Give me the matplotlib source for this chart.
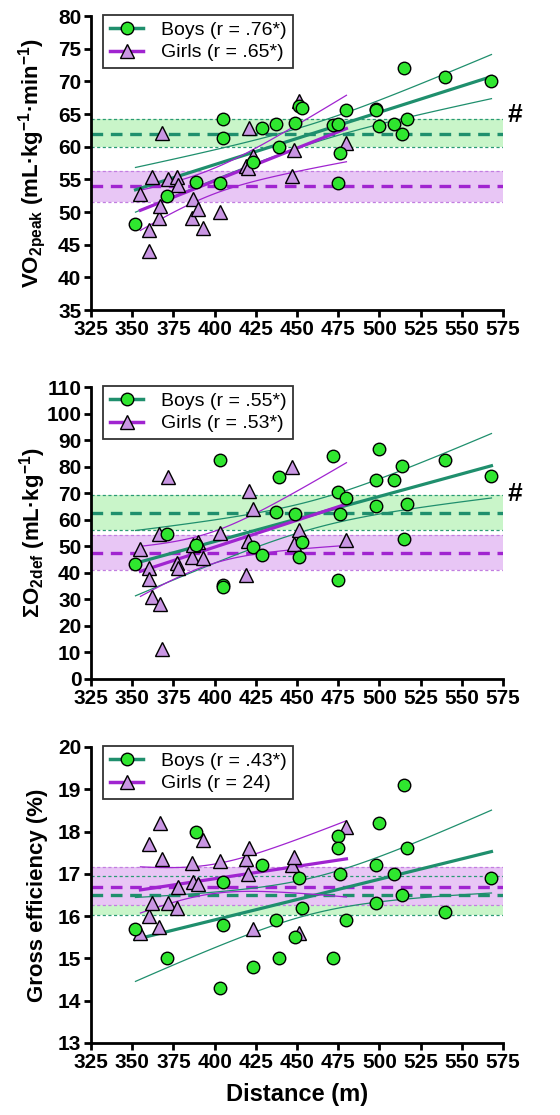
import matplotlib
matplotlib.use("Agg")
import matplotlib.pyplot as plt
import numpy as np

plt.rcParams["font.family"] = ["Liberation Sans", "DejaVu Sans"]
plt.rcParams["mathtext.fontset"] = "custom"
plt.rcParams["mathtext.rm"] = "Liberation Sans:bold"
plt.rcParams["mathtext.it"] = "Liberation Sans:bold"
plt.rcParams["mathtext.bf"] = "Liberation Sans:bold"
plt.rcParams["mathtext.default"] = "rm"

# distances (m)
boys_dist = [352, 371, 389, 403, 405, 405, 423, 429, 437, 439, 449, 451, 453, 472,
             475, 475, 476, 480, 498, 498, 500, 509, 514, 515, 517, 540, 568]
girls_dist = [355, 360, 360, 362, 366, 367, 368, 372, 377, 378, 386, 387, 390, 393,
              403, 419, 420, 421, 423, 447, 448, 451, 480]

# VO2peak
boys_vo2 = [48.2, 52.5, 54.6, 54.4, 64.2, 61.3, 57.7, 62.8, 63.4, 60.0, 63.6, 66.2, 65.9, 63.3,
            63.5, 54.5, 59.0, 65.6, 65.8, 65.6, 63.2, 63.4, 62.0, 72.0, 64.2, 70.6, 70.0]
girls_vo2 = [52.7, 47.3, 44.1, 55.3, 49.1, 50.9, 62.1, 55.0, 55.3, 54.2, 49.1, 52.0, 50.5, 47.6,
             50.0, 57.1, 56.7, 62.8, 58.6, 55.5, 59.5, 67.0, 60.5]

# accumulated O2 deficit
boys_o2def = [43.5, 54.5, 50.5, 82.4, 35.4, 34.5, 49.8, 46.7, 63.0, 76.1, 62.0, 46.0, 51.7, 83.9,
              70.5, 37.3, 62.3, 68.0, 74.9, 65.1, 86.8, 74.9, 80.1, 52.7, 66.1, 82.4, 76.4]
girls_o2def = [49.1, 41.7, 37.5, 31.0, 54.8, 28.2, 11.3, 76.1, 43.8, 41.7, 46.0, 50.4, 51.7, 45.4,
               55.0, 39.1, 52.0, 71.0, 64.2, 79.9, 50.8, 56.0, 52.3]

# gross efficiency
boys_ge = [15.7, 15.0, 18.0, 14.3, 16.8, 15.8, 14.8, 17.2, 15.9, 15.0, 15.5, 16.9, 16.2, 15.0,
           17.9, 17.6, 17.0, 15.9, 17.2, 16.3, 18.2, 17.0, 16.5, 19.1, 17.6, 16.1, 16.9]
girls_ge = [15.6, 17.7, 16.0, 16.3, 15.75, 18.2, 17.35, 16.3, 16.2, 16.7, 17.25, 16.8, 16.75, 17.8,
            17.3, 17.35, 17.0, 17.6, 15.7, 17.2, 17.4, 15.6, 18.1]

# group mean (dashed) and band limits (dotted), [mean, low, high]
boys_band = {"vo2": [62.0, 60.0, 64.2], "o2def": [62.6, 56.3, 69.2], "ge": [16.49, 16.03, 16.94]}
girls_band = {"vo2": [54.0, 51.6, 56.3], "o2def": [47.5, 40.9, 54.2], "ge": [16.70, 16.27, 17.17]}

boys_labels = ["Boys (r = .76*)", "Boys (r = .55*)", "Boys (r = .43*)"]
girls_labels = ["Girls (r = .65*)", "Girls (r = .53*)", "Girls (r = 24)"]
ylabels = [
    "VO$_{2peak}$ (mL·kg$^{-1}$·min$^{-1}$)",
    "ΣO$_{2def}$ (mL·kg$^{-1}$)",
    "Gross efficiency (%)",
]
ylims = [(35, 80, 5), (0, 110, 10), (13, 20, 1)]
hash_y = [64.8, 69.8, None]

T_BOYS = 2.060   # t(0.975, df=25)
T_GIRLS = 2.080  # t(0.975, df=21)

TEAL = "#1f8f6d"
PURPLE = "#a024d0"
GREEN_FILL = "#2fe62f"
LILAC_FILL = "#c996e3"
GREEN_BAND = "#c9f5c9"
PURPLE_BAND = "#e8c6f5"


def fit_with_ci(x, y, t):
    x = np.asarray(x, float)
    y = np.asarray(y, float)
    slope, intercept = np.polyfit(x, y, 1)
    xs = np.linspace(x.min(), x.max(), 100)
    pred = intercept + slope * xs
    resid = y - (intercept + slope * x)
    s = np.sqrt(np.sum(resid ** 2) / (len(x) - 2))
    se = s * np.sqrt(1 / len(x) + (xs - x.mean()) ** 2 / np.sum((x - x.mean()) ** 2))
    return xs, pred, pred - t * se, pred + t * se


def draw_panel(ax, key, boys_y, girls_y, blabel, glabel, ylabel, ylim, hy):
    for band, line_col, fill_col, edge_col in [
        (boys_band[key], TEAL, GREEN_BAND, "#2a9a74"),
        (girls_band[key], PURPLE, PURPLE_BAND, "#c27ee0"),
    ]:
        mean, lo, hi = band
        ax.axhspan(lo, hi, color=fill_col, lw=0, zorder=0)
        ax.axhline(lo, color=edge_col, lw=0.9, ls=(0, (2.5, 2)), zorder=1)
        ax.axhline(hi, color=edge_col, lw=0.9, ls=(0, (2.5, 2)), zorder=1)
        ax.axhline(mean, color=line_col, lw=2.4, ls=(0, (3.5, 2.3)), zorder=1)

    for x, y, col, t in [(boys_dist, boys_y, TEAL, T_BOYS), (girls_dist, girls_y, PURPLE, T_GIRLS)]:
        xs, pred, lo, hi = fit_with_ci(x, y, t)
        ax.plot(xs, pred, color=col, lw=2.3, zorder=2)
        ax.plot(xs, lo, color=col, lw=0.9, zorder=2)
        ax.plot(xs, hi, color=col, lw=0.9, zorder=2)

    ax.plot(girls_dist, girls_y, ls="none", marker="^", ms=10, mfc=LILAC_FILL, mec="black",
            mew=1.0, zorder=3)
    ax.plot(boys_dist, boys_y, ls="none", marker="o", ms=9, mfc=GREEN_FILL, mec="black",
            mew=1.0, zorder=4)

    # legend handles: line + marker
    hb, = ax.plot([], [], color=TEAL, lw=2.5, marker="o", ms=9, mfc=GREEN_FILL, mec="black")
    hg, = ax.plot([], [], color=PURPLE, lw=2.5, marker="^", ms=10, mfc=LILAC_FILL, mec="black")
    leg = ax.legend([hb, hg], [blabel, glabel], loc="upper left", bbox_to_anchor=(0.03, 1.005),
                    fontsize=14, frameon=True, fancybox=False, edgecolor="black",
                    handlelength=1.7, handletextpad=0.9, borderpad=0.35, labelspacing=0.25,
                    borderaxespad=0)
    leg.get_frame().set_linewidth(1.3)

    ax.set_xlim(325, 575)
    ax.set_xticks(np.arange(325, 576, 25))
    ax.set_ylim(ylim[0], ylim[1])
    ax.set_yticks(np.arange(ylim[0], ylim[1] + 0.01, ylim[2]))
    ax.spines["top"].set_visible(False)
    ax.spines["right"].set_visible(False)
    ax.spines["left"].set_linewidth(2.0)
    ax.spines["bottom"].set_linewidth(2.0)
    ax.tick_params(width=2.0, length=5, labelsize=15, pad=2)
    for lab in ax.get_xticklabels() + ax.get_yticklabels():
        lab.set_fontweight("bold")
    ax.set_ylabel(ylabel, fontsize=16, fontweight="bold")
    ax.yaxis.set_label_coords(-0.105, 0.5)
    if hy is not None:
        ax.text(1.012, hy, "#", transform=ax.get_yaxis_transform(), fontsize=19,
                fontweight="bold", ha="left", va="center", clip_on=False)


fig = plt.figure(figsize=(5.6, 11.15), dpi=100)
left, width = 91 / 560, 412 / 560
ax1 = fig.add_axes([left, 1 - 310 / 1115, width, 294 / 1115])
ax2 = fig.add_axes([left, 1 - 679 / 1115, width, 292 / 1115])
ax3 = fig.add_axes([left, 1 - 1043 / 1115, width, 296 / 1115])

draw_panel(ax1, "vo2", boys_vo2, girls_vo2, boys_labels[0], girls_labels[0], ylabels[0], ylims[0], hash_y[0])
draw_panel(ax2, "o2def", boys_o2def, girls_o2def, boys_labels[1], girls_labels[1], ylabels[1], ylims[1], hash_y[1])
draw_panel(ax3, "ge", boys_ge, girls_ge, boys_labels[2], girls_labels[2], ylabels[2], ylims[2], hash_y[2])
ax3.set_xlabel("Distance (m)", fontsize=17, fontweight="bold", labelpad=8)

fig.savefig("out.png", dpi=100)
